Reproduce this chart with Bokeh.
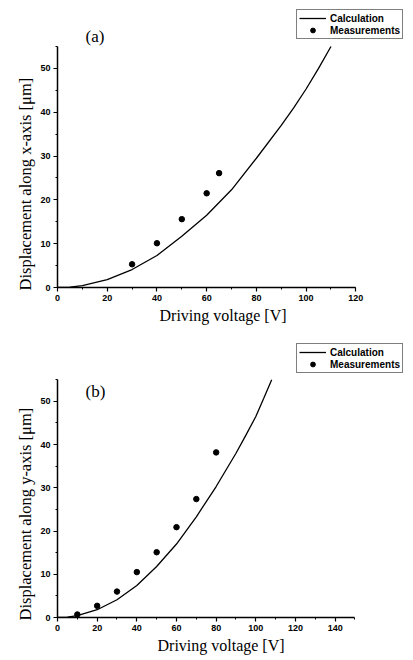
from bokeh.plotting import figure
from bokeh.layouts import column
from bokeh.models import Legend, LegendItem, Label, Range1d, SingleIntervalTicker, Title
from bokeh.embed import file_html
from bokeh.resources import INLINE

# Panel (a): displacement along x-axis
a_calc_v = [0, 5, 10, 20, 30, 40, 50, 60, 70, 80, 90, 95, 100, 105, 110]
a_calc_d = [0, 0.1, 0.45, 1.8, 4.1, 7.3, 11.7, 16.5, 22.3, 29.5, 37.0, 41.0, 45.3, 50.0, 55.0]
a_meas_v = [30, 40, 50, 60, 65]
a_meas_d = [5.3, 10.1, 15.6, 21.5, 26.1]

# Panel (b): displacement along y-axis
b_calc_v = [0, 5, 10, 20, 30, 40, 50, 60, 70, 80, 90, 95, 100, 104, 108]
b_calc_d = [0, 0.1, 0.45, 1.8, 4.1, 7.4, 11.8, 17.0, 23.3, 30.3, 38.0, 42.2, 46.5, 50.7, 55.0]
b_meas_v = [10, 20, 30, 40, 50, 60, 70, 80]
b_meas_d = [0.7, 2.7, 6.0, 10.5, 15.1, 20.9, 27.4, 38.2]

x_label = "Driving voltage [V]"
a_y_label = "Displacement along x-axis [\u03bcm]"
b_y_label = "Displacement along y-axis [\u03bcm]"

SERIF = "Liberation Serif"
SANS = "Liberation Sans"


def make_panel(cv, cd, mv, md, xmax, xend, yend, ylabel, tag, left, tag_y, legend_loc, xoff):
    p = figure(width=413, height=330, output_backend="svg", toolbar_location=None,
               x_range=Range1d(0, xend), y_range=Range1d(0, yend),
               min_border_left=left, min_border_right=0,
               min_border_top=0, min_border_bottom=43)
    p.outline_line_color = None
    p.grid.visible = False
    p.background_fill_color = "white"
    p.border_fill_color = "white"

    ln = p.line(cv, cd, line_color="black", line_width=1.3)
    sc = p.scatter(mv, md, size=5.5, fill_color="black", line_color="black")

    p.xaxis.ticker = SingleIntervalTicker(interval=20, num_minor_ticks=2)
    p.yaxis.ticker = SingleIntervalTicker(interval=10, num_minor_ticks=2)
    p.xaxis.bounds = (0, xmax)
    p.yaxis.bounds = (0, 55)
    for ax in (p.xaxis, p.yaxis):
        ax.axis_line_color = "black"
        ax.axis_line_width = 1.5
        ax.major_tick_line_color = "black"
        ax.major_tick_line_width = 1.2
        ax.major_tick_out = 4
        ax.major_tick_in = 0
        ax.minor_tick_out = 2
        ax.minor_tick_in = 0
        ax.minor_tick_line_color = "black"
        ax.major_label_text_font = SANS
        ax.major_label_text_font_style = "bold"
        ax.major_label_text_font_size = "9px"
        ax.major_label_text_color = "black"
    p.xaxis.major_label_standoff = 3
    p.yaxis.major_label_standoff = 3

    xt = Title(text=x_label, align="left", offset=xoff, standoff=2,
               text_font=SERIF, text_font_style="normal", text_font_size="16px",
               text_color="black")
    p.add_layout(xt, "below")
    yt = Title(text=ylabel, align="left", offset=-3, standoff=6,
               text_font=SERIF, text_font_style="normal", text_font_size="16.5px",
               text_color="black")
    p.add_layout(yt, "left")

    legend = Legend(items=[LegendItem(label="Calculation", renderers=[ln]),
                           LegendItem(label="Measurements", renderers=[sc])],
                    location=legend_loc)
    legend.label_text_font = SANS
    legend.label_text_font_style = "bold"
    legend.label_text_font_size = "10px"
    legend.label_text_color = "black"
    legend.border_line_color = "black"
    legend.border_line_width = 1
    legend.background_fill_alpha = 1
    legend.padding = 2
    legend.spacing = 0
    legend.margin = 0
    legend.glyph_width = 27
    legend.glyph_height = 12
    legend.label_height = 12
    legend.label_standoff = 4
    p.add_layout(legend)

    lab = Label(x=28, y=tag_y, x_units="screen", y_units="screen", text=tag,
                text_font=SERIF, text_font_size="17px", text_color="black",
                text_baseline="bottom")
    p.add_layout(lab)
    return p


pa = make_panel(a_calc_v, a_calc_d, a_meas_v, a_meas_d, 120, 143.2, 65.5,
                a_y_label, "(a)", 55, 242, (239, 248), 102)
pb = make_panel(b_calc_v, b_calc_d, b_meas_v, b_meas_d, 150, 179.5, 66.4,
                b_y_label, "(b)", 57, 217, (239, 244), 100)

layout = column(pa, pb, spacing=0)
open("out.html", "w").write(file_html(layout, INLINE))
